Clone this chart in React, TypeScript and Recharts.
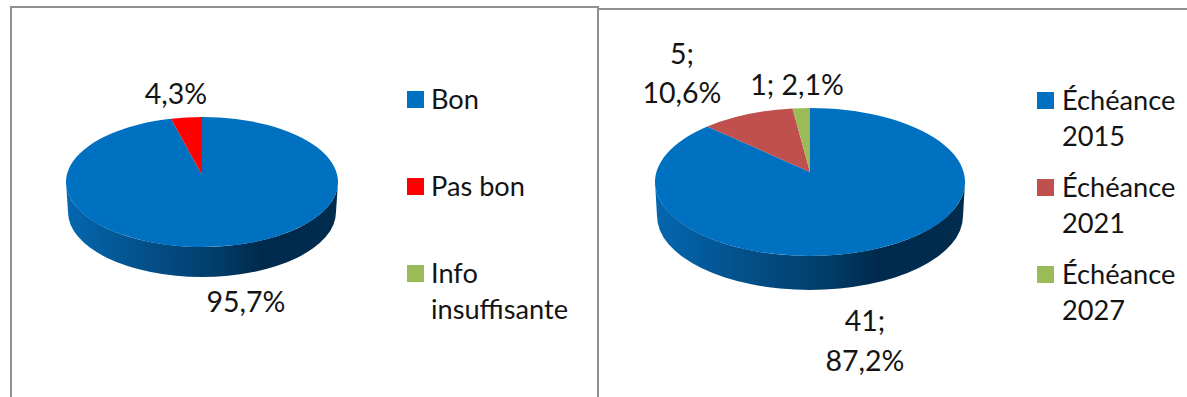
import React from "react";
import { PieChart, Pie, Cell, Legend } from "recharts";

const FONT = "Lato, Carlito, 'Open Sans', sans-serif";
const INK = "#141414";

// ---- Data: left chart
const stateNames = ["Bon", "Pas bon", "Info insuffisante"];
const stateLegendLines = [["Bon"], ["Pas bon"], ["Info", "insuffisante"]];
const stateValues = [95.7, 4.3, 0];
const stateColors = ["#0070c0", "#ff0000", "#9bbb59"];

// ---- Data: right chart
const dueNames = ["Échéance 2015", "Échéance 2021", "Échéance 2027"];
const dueLegendLines = [["Échéance", "2015"], ["Échéance", "2021"], ["Échéance", "2027"]];
const dueValues = [41, 5, 1];
const dueColors = ["#0070c0", "#c0504d", "#9bbb59"];

const pct = (p: number) => (p * 100).toFixed(1).replace(".", ",") + "%";
const stateLabel = (_v: number, p: number) => [pct(p)];
const dueLabel = (v: number, p: number, i: number) =>
  i === 2 ? [`${v}; ${pct(p)}`] : [`${v};`, pct(p)];

const polar = (cx: number, cy: number, rx: number, ry: number, deg: number) => {
  const a = (deg * Math.PI) / 180;
  return [cx + rx * Math.cos(a), cy - ry * Math.sin(a)];
};

// the tilted disc foreshortens angles near its back edge
const tilt = (deg: number) => {
  const fromTop = 90 - deg;
  return 90 - (fromTop - 4.5 * Math.sin((2 * fromTop * Math.PI) / 180));
};

const makeTop = (ratio: number, lift: number) => (p: any) => {
  const { cx, cy, outerRadius: r, startAngle: s, endAngle: e, fill } = p;
  if (Math.abs(s - e) < 0.001) return <g />;
  const ry = r * ratio;
  const [x0, y0] = polar(cx, cy, r, ry, tilt(s));
  const [x1, y1] = polar(cx, cy, r, ry, tilt(e));
  const large = Math.abs(s - e) > 180 ? 1 : 0;
  return (
    <path
      d={`M${cx},${cy - lift}L${x0},${y0}A${r},${ry} 0 ${large} 1 ${x1},${y1}Z`}
      fill={fill}
      stroke="none"
    />
  );
};

const makeWall = (ratio: number, depth: number, id: string) => (p: any) => {
  const { cx, cy, outerRadius: r, startAngle: s0, endAngle: e0 } = p;
  const s = Math.min(s0, 0);
  const e = Math.max(e0, -180);
  if (s <= e) return <g />;
  const ry = r * ratio;
  const r2 = r - 2;
  const [ax, ay] = polar(cx, cy, r, ry, s);
  const [bx, by] = polar(cx, cy, r, ry, e);
  const [cx2, cy2] = polar(cx, cy + depth, r2, ry, e);
  const [dx, dy] = polar(cx, cy + depth, r2, ry, s);
  return (
    <g>
      <defs>
        <linearGradient id={id} x1="0" y1="0" x2="1" y2="0">
          <stop offset="0" stopColor="#0467b0" />
          <stop offset="0.3" stopColor="#034f88" />
          <stop offset="0.55" stopColor="#013d6a" />
          <stop offset="0.72" stopColor="#002a4d" />
          <stop offset="1" stopColor="#002c4e" />
        </linearGradient>
      </defs>
      <path
        d={`M${ax},${ay}A${r},${ry} 0 0 1 ${bx},${by}L${cx2},${cy2}A${r2},${ry} 0 0 0 ${dx},${dy}Z`}
        fill={`url(#${id})`}
        stroke="none"
      />
    </g>
  );
};

type Spot = { x: number; y: number }[];

const makeLabel = (
  spots: Spot[],
  text: (v: number, p: number, i: number) => string[],
  size: number
) => (p: any) => {
  const i = p.index;
  if (!p.value) return <g />;
  const lines = text(p.value, p.percent, i);
  return (
    <g>
      {lines.map((t, k) => (
        <text
          key={k}
          x={spots[i][k].x}
          y={spots[i][k].y}
          textAnchor="middle"
          dominantBaseline="central"
          fontFamily={FONT}
          fontSize={size}
          fill={INK}
        >
          {t}
        </text>
      ))}
    </g>
  );
};

const LegendBlock = ({
  lines,
  colors,
  x,
  tops,
  textX,
  size,
  lineGap,
}: {
  lines: string[][];
  colors: string[];
  x: number;
  tops: number[];
  textX: number;
  size: number;
  lineGap: number;
}) => (
  <div style={{ position: "absolute", left: 0, top: 0, width: 0, height: 0 }}>
    {lines.map((ls, i) => (
      <React.Fragment key={i}>
        <div
          style={{
            position: "absolute",
            left: x,
            top: tops[i],
            width: 17,
            height: 17,
            background: colors[i],
          }}
        />
        {ls.map((t, k) => (
          <div
            key={k}
            style={{
              position: "absolute",
              left: textX,
              top: tops[i] + 8 - lineGap / 2 + k * lineGap,
              height: lineGap,
              lineHeight: `${lineGap}px`,
              fontFamily: FONT,
              fontSize: size,
              color: INK,
              whiteSpace: "nowrap",
            }}
          >
            {t}
          </div>
        ))}
      </React.Fragment>
    ))}
  </div>
);

const LEFT_RATIO = 65 / 136;
const RIGHT_RATIO = 74 / 155;
const LABEL_SIZE = 28.5;
const LEGEND_SIZE = 27.2;

const leftSpots: Spot[] = [[{ x: 246, y: 301 }], [{ x: 176, y: 93 }], []];
const rightSpots: Spot[] = [
  [{ x: 275, y: 320 }, { x: 275, y: 360 }],
  [{ x: 92, y: 53 }, { x: 92, y: 92 }],
  [{ x: 207, y: 84 }],
];

export default function App() {
  const leftData = stateNames.map((name, i) => ({ name, value: stateValues[i] }));
  const rightData = dueNames.map((name, i) => ({ name, value: dueValues[i] }));
  return (
    <div style={{ position: "absolute", left: 0, top: 0, width: 1187, height: 397, overflow: "hidden", background: "#fff" }}>
      <div
        style={{
          position: "absolute",
          left: 10,
          top: 6,
          width: 585,
          height: 400,
          borderLeft: "2px solid #8f8f8f",
          borderTop: "2px solid #8f8f8f",
          borderRight: "2px solid #8f8f8f",
        }}
      />
      <div
        style={{
          position: "absolute",
          left: 597,
          top: 8,
          width: 600,
          height: 400,
          borderLeft: "2px solid #8f8f8f",
          borderTop: "2px solid #8f8f8f",
        }}
      />
      <div style={{ position: "absolute", left: 0, top: 0 }}>
        <PieChart width={597} height={397} margin={{ top: 0, right: 0, bottom: 0, left: 0 }}>
          <Pie
            data={leftData}
            dataKey="value"
            nameKey="name"
            cx={202}
            cy={182}
            outerRadius={136}
            startAngle={90}
            endAngle={-270}
            stroke="none"
            isAnimationActive={false}
            legendType="none"
            shape={makeWall(LEFT_RATIO, 30, "wallLeft")}
          />
          <Pie
            data={leftData}
            dataKey="value"
            nameKey="name"
            cx={202}
            cy={182}
            outerRadius={136}
            startAngle={90}
            endAngle={-270}
            stroke="none"
            isAnimationActive={false}
            labelLine={false}
            label={makeLabel(leftSpots, stateLabel, LABEL_SIZE)}
            shape={makeTop(LEFT_RATIO, 7)}
          >
            {stateColors.map((c, i) => (
              <Cell key={i} fill={c} />
            ))}
          </Pie>
          <Legend
            content={() => (
              <LegendBlock
                lines={stateLegendLines}
                colors={stateColors}
                x={407}
                tops={[91, 178, 265]}
                textX={431}
                size={LEGEND_SIZE}
                lineGap={36}
              />
            )}
            wrapperStyle={{ position: "absolute", left: 0, top: 0, width: 0, height: 0 }}
          />
        </PieChart>
      </div>
      <div style={{ position: "absolute", left: 590, top: 0 }}>
        <PieChart width={597} height={397} margin={{ top: 0, right: 0, bottom: 0, left: 0 }}>
          <Pie
            data={rightData}
            dataKey="value"
            nameKey="name"
            cx={220}
            cy={182}
            outerRadius={155}
            startAngle={90}
            endAngle={-270}
            stroke="none"
            isAnimationActive={false}
            legendType="none"
            shape={makeWall(RIGHT_RATIO, 34, "wallRight")}
          />
          <Pie
            data={rightData}
            dataKey="value"
            nameKey="name"
            cx={220}
            cy={182}
            outerRadius={155}
            startAngle={90}
            endAngle={-270}
            stroke="none"
            isAnimationActive={false}
            labelLine={false}
            label={makeLabel(rightSpots, dueLabel, LABEL_SIZE)}
            shape={makeTop(RIGHT_RATIO, 10)}
          >
            {dueColors.map((c, i) => (
              <Cell key={i} fill={c} />
            ))}
          </Pie>
          <Legend
            content={() => (
              <LegendBlock
                lines={dueLegendLines}
                colors={dueColors}
                x={447}
                tops={[92, 179, 266]}
                textX={472}
                size={LEGEND_SIZE}
                lineGap={36}
              />
            )}
            wrapperStyle={{ position: "absolute", left: 0, top: 0, width: 0, height: 0 }}
          />
        </PieChart>
      </div>
    </div>
  );
}
